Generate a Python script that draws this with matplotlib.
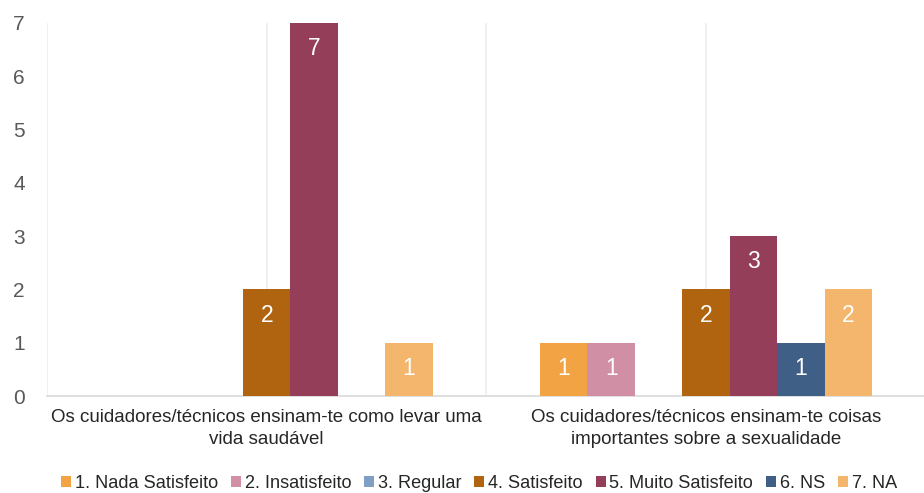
import numpy as np
import matplotlib.pyplot as plt
from matplotlib.patches import Patch

plt.rcParams['font.family'] = ['Liberation Sans', 'DejaVu Sans']

categories = ['Os cuidadores/técnicos ensinam-te como levar uma\nvida saudável',
              'Os cuidadores/técnicos ensinam-te coisas\nimportantes sobre a sexualidade']
series = ['1. Nada Satisfeito', '2. Insatisfeito', '3. Regular', '4. Satisfeito',
          '5. Muito Satisfeito', '6. NS', '7. NA']
nada = [0, 1]
insatisfeito = [0, 1]
regular = [0, 0]
satisfeito = [2, 2]
muito = [7, 3]
ns = [0, 1]
na = [1, 2]
values = [nada, insatisfeito, regular, satisfeito, muito, ns, na]
colors = ['#F2A444', '#D08FA4', '#7F9FC4', '#B1640F', '#943E5A', '#3F5F86', '#F4B56C']

fig = plt.figure(figsize=(9.24, 4.93), dpi=100)
ax = fig.add_axes([47 / 924, 1 - 396 / 493, 1 - 47 / 924 + 0.002, (396 - 23) / 493])

x = np.arange(len(categories))
w = 0.108
for i, (vals, c) in enumerate(zip(values, colors)):
    pos = x + (i - 3) * w
    bars = ax.bar(pos, vals, width=w, color=c, zorder=3)
    for b, v in zip(bars, vals):
        if v > 0:
            ax.annotate(str(v), (b.get_x() + b.get_width() / 2, v),
                        xytext=(0, -18.5), textcoords='offset points',
                        ha='center', va='center', color='white', fontsize=16.5, zorder=4)

ax.set_xlim(-0.5, 1.5)
ax.set_ylim(0, 7)
ax.set_yticks(range(8))
ax.tick_params(axis='y', length=0, pad=16, labelsize=15, labelcolor='#595959')
ax.set_xticks(x)
ax.set_xticklabels(categories, fontsize=13.5, color='#262626', linespacing=1.35)
ax.tick_params(axis='x', length=0, pad=9.5)

for gx in [-0.5, 0, 0.5, 1, 1.5]:
    ax.axvline(gx, color='#EDEDED', lw=1.2, zorder=1)
for s in ['top', 'right', 'left']:
    ax.spines[s].set_visible(False)
ax.spines['bottom'].set_color('#D9D9D9')
ax.spines['bottom'].set_linewidth(1.2)

handles = [Patch(facecolor=c, label=s) for s, c in zip(series, colors)]
fig.legend(handles=handles, loc='center', bbox_to_anchor=(479 / 924, 1 - 483 / 493), ncol=7,
           frameon=False, fontsize=13.1, handlelength=0.55, handleheight=0.55,
           handletextpad=0.2, columnspacing=0.72, labelcolor='#262626',
           borderpad=0, borderaxespad=0)

fig.savefig('out.png', dpi=100)
